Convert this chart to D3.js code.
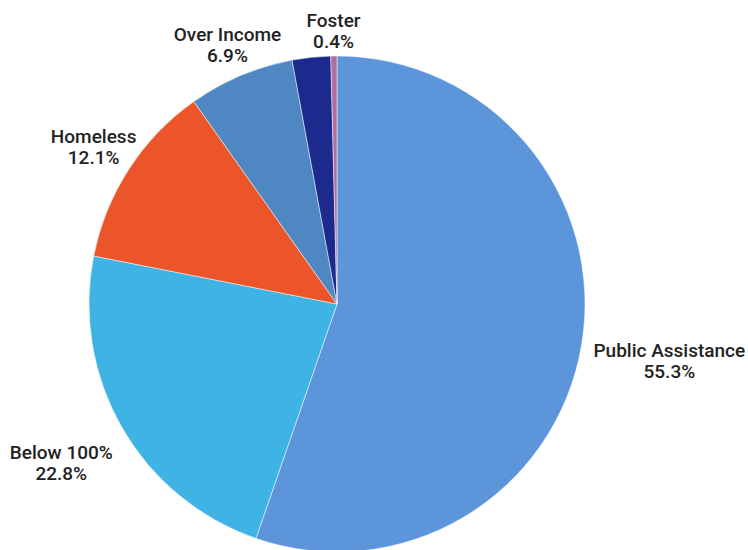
<!DOCTYPE html>
<html><head><meta charset="utf-8">
<script src="https://cdn.jsdelivr.net/npm/d3@7"></script>
<style>html,body{margin:0;padding:0;background:#fff;}</style>
</head><body>
<svg id="chart" width="748" height="550"></svg>
<script>
const categories = ["Public Assistance", "Below 100%", "Homeless", "Over Income", "Other", "Foster"];
const values = [55.3, 22.8, 12.1, 6.9, 2.5, 0.4];
const valueLabels = ["55.3%", "22.8%", "12.1%", "6.9%", "", "0.4%"];
const colors = ["#5c95da", "#3fb3e4", "#ec5429", "#4e87c2", "#1b2a8c", "#b06f9f"];
const showLabel = [true, true, true, true, false, true];

const W = 748, H = 550, cx = 337, cy = 304, r = 248;
// label distance from centre (layout only)
const labelDist = {"Public Assistance": 337, "Below 100%": 318, "Homeless": 290, "Over Income": 282, "Foster": 274};

const svg = d3.select("#chart");
const g = svg.append("g").attr("transform", `translate(${cx},${cy})`);
const data = categories.map((c, i) => ({name: c, value: values[i], label: valueLabels[i], color: colors[i], show: showLabel[i]}));
const pie = d3.pie().value(d => d.value).sort(null);
const arc = d3.arc().innerRadius(0).outerRadius(r);
const arcs = pie(data);

g.selectAll("path").data(arcs).join("path")
  .attr("d", arc)
  .attr("fill", d => d.data.color)
  .attr("stroke", "#fff").attr("stroke-width", 0.5);

const labels = g.selectAll("g.lbl").data(arcs.filter(d => d.data.show)).join("g").attr("class", "lbl")
  .attr("transform", d => {
    const a = (d.startAngle + d.endAngle) / 2;
    const dist = labelDist[d.data.name];
    return `translate(${Math.sin(a) * dist},${-Math.cos(a) * dist})`;
  });
labels.append("text").attr("text-anchor", "middle").attr("y", -3)
  .style("font-family", "Roboto, 'DejaVu Sans', sans-serif").style("font-size", "19px").style("font-weight", 500)
  .attr("fill", "#222").text(d => d.data.name);
labels.append("text").attr("text-anchor", "middle").attr("y", 18)
  .style("font-family", "Roboto, 'DejaVu Sans', sans-serif").style("font-size", "19px").style("font-weight", 500)
  .attr("fill", "#222").text(d => d.data.label);
</script>
</body></html>
